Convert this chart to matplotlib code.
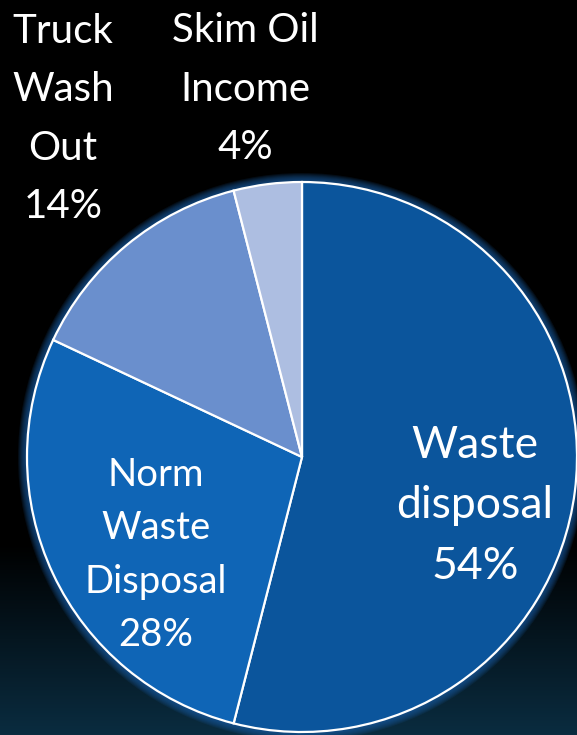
import numpy as np
import matplotlib
matplotlib.use("Agg")
import matplotlib.pyplot as plt
from matplotlib.patches import Circle

# revenue split
categories = ["Waste\ndisposal", "Norm\nWaste\nDisposal", "Truck\nWash\nOut", "Skim Oil\nIncome"]
shares = [54, 28, 14, 4]
colors = ["#0b559c", "#0f65b6", "#6a8fcd", "#adbee1"]

W, H = 577, 735
fig = plt.figure(figsize=(W / 100, H / 100), dpi=100)
ax = fig.add_axes([0, 0, 1, 1])

# dark background fading to teal near the bottom
t = np.linspace(0, 1, H)
fade = np.clip((t - 0.74) / 0.26, 0, 1)
bottom = np.array([10, 44, 64]) / 255.0
grad = (fade[:, None] * bottom[None, :])[:, None, :].repeat(2, axis=1)
ax.imshow(grad, extent=[0, W, 0, H], aspect="auto", zorder=0)

cx, cy, r = 302, 278, 275

# soft glow round the rim
for k in range(9, 0, -1):
    ax.add_patch(Circle((cx, cy), r + k, color="#1a5da6", alpha=0.13, lw=0, zorder=1))

wedges, _ = ax.pie(shares, colors=colors, startangle=90, counterclock=False,
                   center=(cx, cy), radius=r, frame=True,
                   wedgeprops=dict(edgecolor="white", linewidth=1.6))
for w in wedges:
    w.set_zorder(2)
ax.set_xlim(0, W)
ax.set_ylim(0, H)
ax.set_aspect("equal")
ax.axis("off")

plt.rcParams["font.family"] = ["Lato", "DejaVu Sans"]
label_pos = [(475, 229), (156, 180), (63, 616), (245, 646)]
label_size = [32, 27.5, 29, 29]
label_gap = [1.58, 1.6, 1.71, 1.71]
for name, val, (x, y), fs, ls in zip(categories, shares, label_pos, label_size, label_gap):
    ax.text(x, y, f"{name}\n{val}%", ha="center", va="center", ma="center",
            color="white", fontsize=fs, linespacing=ls, zorder=5)

fig.savefig("out.png", dpi=100, facecolor="black")
